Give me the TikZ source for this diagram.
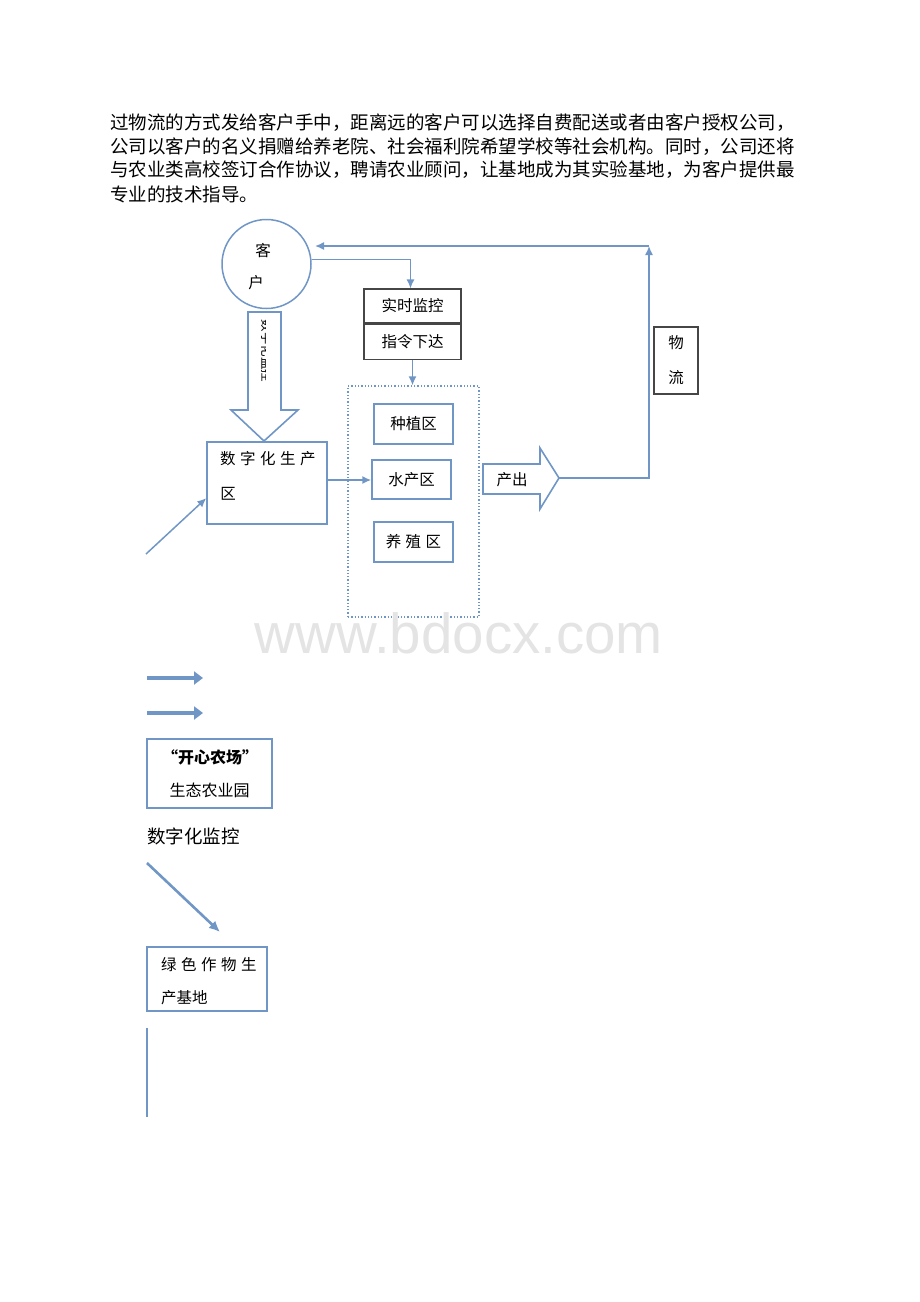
\documentclass[tikz,border=0pt]{standalone}
\usepackage{fontspec}
\setmainfont{Noto Sans CJK SC}
\newfontfamily\wmfont{Liberation Sans}
\usetikzlibrary{arrows.meta,positioning}
\definecolor{lineblue}{RGB}{112,150,198}
\definecolor{boxgray}{RGB}{70,70,70}
\definecolor{wmgray}{RGB}{228,228,228}
\newcommand{\wsp}{\hspace{4.5pt}}

\begin{document}
\begin{tikzpicture} [
	x=1pt, y=-1pt,
	every node/.style = {
		inner sep=0pt,
		align=center,
		font=\fontsize{15.5}{15.5}\selectfont
	},
	para/.style = {anchor=west, font=\fontsize{18.5}{18.5}\selectfont},
	bluebox/.style = {draw=lineblue, line width=1.5pt},
	blackbox/.style = {draw=boxgray, line width=1.1pt},
	zone/.style = {draw=lineblue, line width=1.3pt, dotted},
	conn/.style = {draw=lineblue, line width=1.5pt, -{Latex[length=9pt,width=8pt]}},
	fat/.style = {draw=lineblue, line width=1.6pt, line join=miter},
	heavy/.style = {draw=lineblue, line width=4.5pt, -{Triangle[length=9pt,width=13pt]}}
]
\useasboundingbox (0,0) rectangle (920,1302);

\node (line1) [para] at (110,123) {过物流的方式发给客户手中，距离远的客户可以选择自费配送或者由客户授权公司，};
\node (line2) [para] at (110,147) {公司以客户的名义捐赠给养老院、社会福利院希望学校等社会机构。同时，公司还将};
\node (line3) [para] at (110,170) {与农业类高校签订合作协议，聘请农业顾问，让基地成为其实验基地，为客户提供最};
\node (line4) [para] at (110,194) {专业的技术指导。};

\node (kehu) [circle, bluebox, minimum size=89pt] at (266.5,264) {};
\node (kehuA) at (263,251) {客};
\node (kehuB) at (256,283) {户};

\node (cmdA) [blackbox, minimum width=97pt, minimum height=34pt] at (412.5,306) {实时监控};
\node (cmdB) [blackbox, minimum width=97pt, minimum height=35pt, below=0pt of cmdA] {指令下达};

\node (farm) [zone, minimum width=131pt, minimum height=231pt] at (413.5,501.5) {};
\node (zhongzhi) [bluebox, minimum width=79pt, minimum height=40pt] at (413.5,424) {种植区};
\node (shuichan) [bluebox, minimum width=79pt, minimum height=39pt] at (411.5,479.5) {水产区};
\node (yangzhi) [bluebox, minimum width=79pt, minimum height=40pt] at (413.5,542) {养\wsp 殖\wsp 区};

\node (shengchan) [bluebox, minimum width=120pt, minimum height=82pt] at (267,483) {};
\node (shengchanA) [anchor=west] at (220,459) {数\wsp 字\wsp 化\wsp 生\wsp 产};
\node (shengchanB) at (228,494) {区};

\node (wuliu) [blackbox, minimum width=44pt, minimum height=67pt,
	font=\fontsize{15.5}{35}\selectfont] at (676,360.5) {物\\流};

% big arrow from the customer down to the production area
\draw[fat] (248,312) -- (281,312) -- (281,410) -- (298,410) -- (264,441)
	-- (231,410) -- (248,410) -- cycle;
\begin{scope}
\clip (257,318) rectangle (265.5,384);
\node (jiankong) [rotate=-90, font=\fontsize{12.5}{12.5}\selectfont] at (267,351) {数字化监控};
\end{scope}

% output arrow
\draw[fat] (483,464) -- (540,464) -- (540,448) -- (559,478) -- (540,509)
	-- (540,494) -- (483,494) -- cycle;
\node (chanchu) at (512,480) {产出};
\coordinate (chanTip) at (559,478);
\coordinate (corner) at (649,246);
\coordinate (backIn) at (315,246);
\coordinate (inA) at (146,554);

\draw[conn] (kehu.6) -| ([xshift=-2pt]cmdA.north);
\draw[conn] (cmdB.south) -- (cmdB.south |- farm.north);
\draw[conn] (shengchan.east |- 0,480) -- (shuichan.west |- 0,480);
\draw[conn] (inA) -- (shengchan.194);
\draw[conn] (chanTip) -| (corner);
\draw[conn] (corner) -- (backIn);

\node (watermark) [font=\wmfont\fontsize{56.5}{56.5}\selectfont, text=wmgray] at (459,633) {www.bdocx.com};

\coordinate (hvA) at (147,678);
\coordinate (hvB) at (147,713);
\draw[heavy] (hvA) -- ++(56,0);
\draw[heavy] (hvB) -- ++(56,0);

\node (happy) [bluebox, line width=1.1pt, minimum width=125pt, minimum height=69pt] at (209.5,773.5) {};
\node (happyA) [font=\fontsize{16}{16}\selectfont\bfseries] at (210,757) {“开心农场”};
\node (happyB) [font=\fontsize{16}{16}\selectfont] at (209.5,790) {生态农业园};

\node (digimon) [para] at (147,836) {数字化监控};

\coordinate (diagA) at (147,863);
\draw[draw=lineblue, line width=2.6pt, -{Latex[length=11pt,width=10pt]}] (diagA) -- (220,932);

\node (green) [bluebox, line width=1.1pt, minimum width=120pt, minimum height=64pt] at (207,979) {};
\node (greenA) [anchor=west] at (161,965) {绿\wsp 色\wsp 作\wsp 物\wsp 生};
\node (greenB) [anchor=west] at (161,998) {产基地};

\coordinate (vlineA) at (147,1028);
\draw[lineblue, line width=1.3pt] (vlineA) -- ++(0,89);

\end{tikzpicture}
\end{document}
